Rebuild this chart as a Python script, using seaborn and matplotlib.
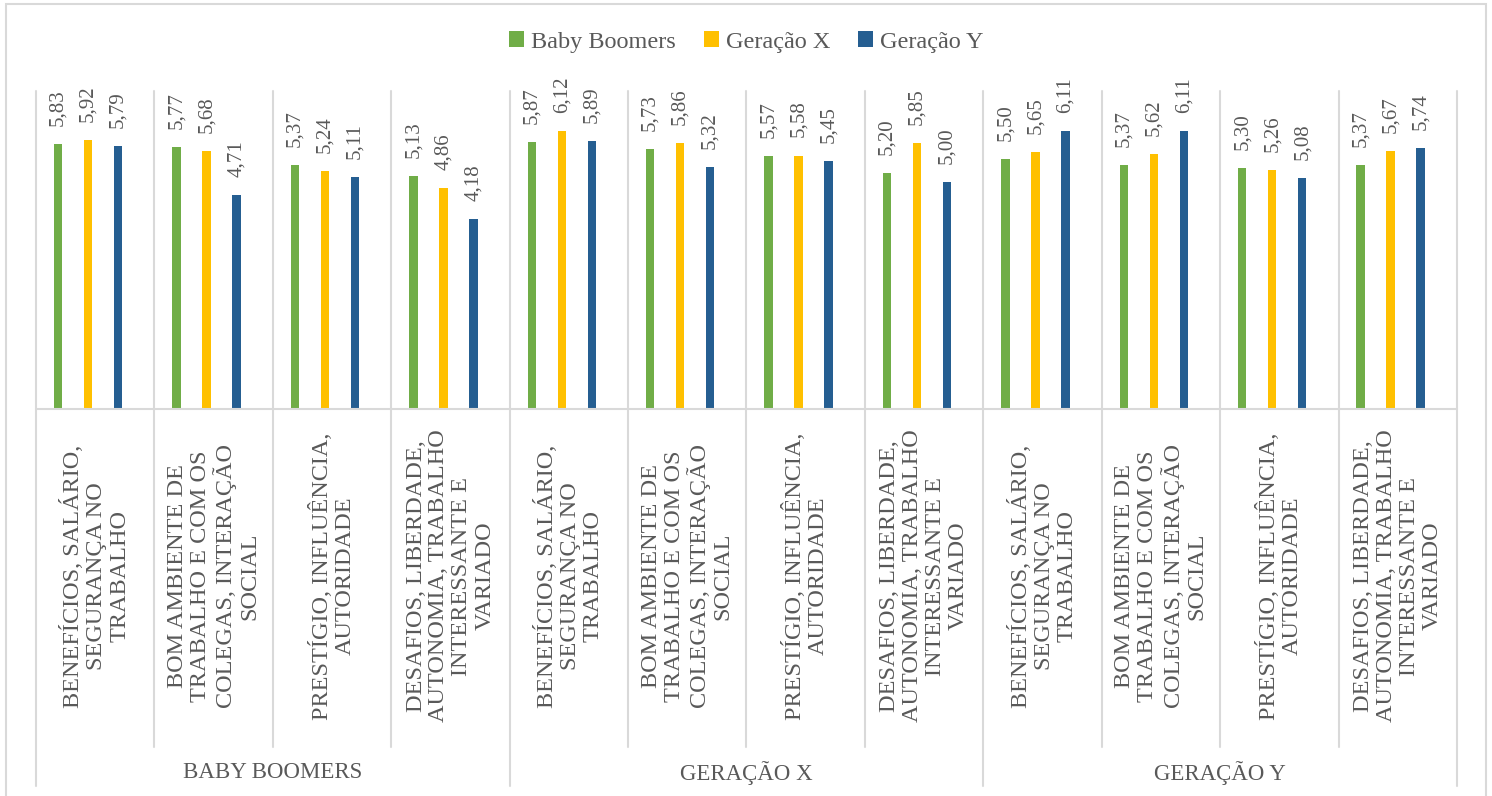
import matplotlib
matplotlib.use("Agg")
import matplotlib.pyplot as plt
import seaborn as sns
import pandas as pd

# --- data -------------------------------------------------------------
groups = ["BABY BOOMERS", "GERAÇÃO X", "GERAÇÃO Y"]
factors = [
    "BENEFÍCIOS, SALÁRIO,\nSEGURANÇA NO\nTRABALHO",
    "BOM AMBIENTE DE\nTRABALHO E COM OS\nCOLEGAS, INTERAÇÃO\nSOCIAL",
    "PRESTÍGIO, INFLUÊNCIA,\nAUTORIDADE",
    "DESAFIOS, LIBERDADE,\nAUTONOMIA, TRABALHO\nINTERESSANTE E\nVARIADO",
]
series = ["Baby Boomers", "Geração X", "Geração Y"]
baby_boomers = [5.83, 5.77, 5.37, 5.13, 5.87, 5.73, 5.57, 5.20, 5.50, 5.37, 5.30, 5.37]
geracao_x = [5.92, 5.68, 5.24, 4.86, 6.12, 5.86, 5.58, 5.85, 5.65, 5.62, 5.26, 5.67]
geracao_y = [5.79, 4.71, 5.11, 4.18, 5.89, 5.32, 5.45, 5.00, 6.11, 6.11, 5.08, 5.74]
colors = ["#70AD47", "#FFC000", "#255E91"]

items = [f"{g}|{f}" for g in groups for f in factors]
rows = []
for name, vals in zip(series, [baby_boomers, geracao_x, geracao_y]):
    for item, v in zip(items, vals):
        rows.append({"item": item, "serie": name, "valor": v})
df = pd.DataFrame(rows)

# --- style --------------------------------------------------------------
sns.set_theme(style="white")
plt.rcParams["font.family"] = ["Liberation Serif", "DejaVu Serif"]
TXT = "#595959"
LINE = "#D9D9D9"

W, H = 1492, 796
fig = plt.figure(figsize=(W / 100, H / 100), dpi=100)
ax_left, ax_right, ax_top, ax_bottom = 36, 1457, 91, 409
ax = fig.add_axes([ax_left / W, 1 - ax_bottom / H,
                   (ax_right - ax_left) / W, (ax_bottom - ax_top) / H])

sns.barplot(data=df, x="item", y="valor", hue="serie", order=items,
            hue_order=series, palette=colors, saturation=1, errorbar=None,
            width=0.76, gap=0.72, linewidth=0, ax=ax)

# the bar cluster sits slightly left of each category's center
shift = 0.06
ax.set_xlim(-0.5 + shift, len(items) - 0.5 + shift)
ax.set_ylim(0, 7)
ax.set_xticks([])
ax.set_yticks([])
ax.set_xlabel("")
ax.set_ylabel("")
for s in ax.spines.values():
    s.set_visible(False)

# value labels
for cont, vals in zip(ax.containers, [baby_boomers, geracao_x, geracao_y]):
    ax.bar_label(cont, labels=[f"{v:.2f}".replace(".", ",") for v in vals],
                 rotation=90, padding=13, fontsize=15, color=TXT)

# frame lines of the category axis
h_px = ax_bottom - ax_top
def ay(py):
    return (ax_bottom - py) / h_px

xt = ax.get_xaxis_transform()
ax.plot([-0.5 + shift, len(items) - 0.5 + shift], [0, 0], transform=xt,
        color=LINE, lw=1.5, clip_on=False)
for k in range(len(items) + 1):
    x = k - 0.5 + shift
    end = ay(786) if k % 4 == 0 else ay(747)
    ax.plot([x, x], [1.0, end], transform=xt, color=LINE, lw=1.5,
            clip_on=False)

# category labels
for i, item in enumerate(items):
    label = item.split("|", 1)[1]
    ax.text(i + shift, ay(576), label, transform=xt, rotation=90,
            ha="center", va="center", multialignment="center",
            fontsize=17.5, color=TXT, linespacing=1.12)

# group labels
for g, name in enumerate(groups):
    ax.text(4 * g + 1.5 + shift, ay(773), name, transform=xt,
            ha="center", va="center", fontsize=16.5, color=TXT)

# legend
sns.move_legend(ax, "center", bbox_to_anchor=(0.5, ay(42)), ncol=3,
                frameon=False, title=None, fontsize=17.5, handlelength=0.6,
                handleheight=0.6, handletextpad=0.3, columnspacing=1.15,
                labelcolor=TXT)

# outer chart border
fig.add_artist(plt.Rectangle((6 / W, -0.02), (1486 - 6) / W, 1 - 4 / H + 0.02,
                             transform=fig.transFigure, fill=False,
                             edgecolor=LINE, lw=1.5))

fig.savefig("out.png", dpi=100, facecolor="white")
